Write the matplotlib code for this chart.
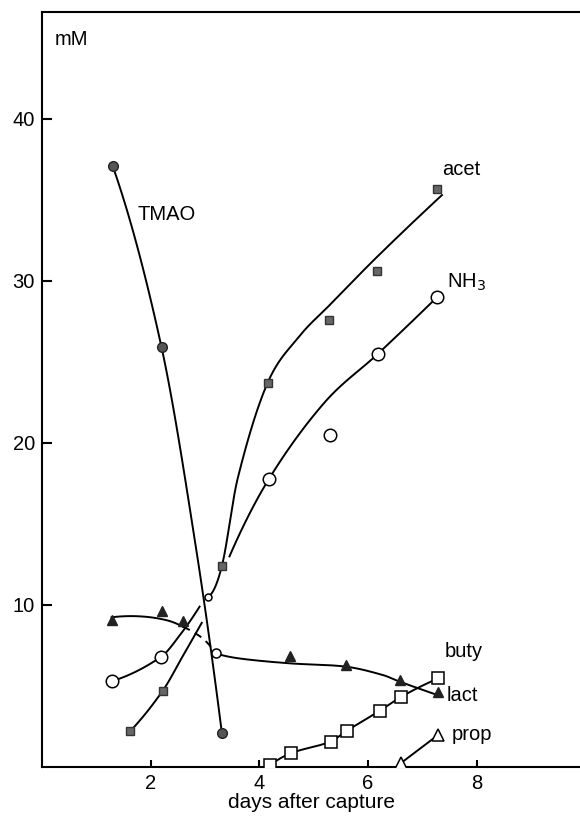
import numpy as np
import matplotlib
matplotlib.use("Agg")
import matplotlib.pyplot as plt

plt.rcParams['font.family'] = ['Liberation Sans Narrow', 'Liberation Sans', 'DejaVu Sans']

# punkty pomiarowe
tmao_x = [1.30, 2.20, 3.31]
tmao_y = [37.1, 25.9, 2.1]

acet_x = [1.62, 2.22, 3.31, 4.15, 5.29, 6.17, 7.27]
acet_y = [2.2, 4.7, 12.4, 23.7, 27.6, 30.6, 35.7]

nh3_x = [1.29, 2.19, 4.18, 5.30, 6.18, 7.27]
nh3_y = [5.3, 6.8, 17.8, 20.5, 25.5, 29.0]
nh3_small_x = [3.05]
nh3_small_y = [10.5]

lact_x = [1.28, 2.21, 2.60, 4.56, 5.60, 6.58, 7.28]
lact_y = [9.1, 9.6, 9.0, 6.85, 6.3, 5.4, 4.65]
lact_open_x = [3.20]
lact_open_y = [7.06]

buty_x = [4.20, 4.58, 5.31, 5.61, 6.22, 6.61, 7.29]
buty_y = [0.12, 0.85, 1.57, 2.24, 3.48, 4.34, 5.47]

prop_x = [6.60, 7.29]
prop_y = [0.23, 1.98]

# krzywe wygładzone (punkty węzłowe)
tmao_cx = [1.30, 2.20, 2.83, 3.31]
tmao_cy = [37.1, 25.9, 13.6, 2.1]

acet_lo_cx = [1.62, 2.22, 2.60, 2.94]
acet_lo_cy = [2.2, 4.7, 6.9, 8.9]
acet_hi_cx = [3.05, 3.31, 3.60, 4.15, 4.74, 5.29, 6.17, 7.36]
acet_hi_cy = [10.5, 12.4, 17.8, 23.7, 26.6, 28.5, 31.5, 35.3]

nh3_lo_cx = [1.29, 2.19, 2.55, 2.90]
nh3_lo_cy = [5.3, 6.8, 8.2, 9.9]
nh3_hi_cx = [3.45, 4.18, 5.20, 6.18, 7.27]
nh3_hi_cy = [13.0, 17.8, 22.5, 25.5, 29.0]

lact_a_cx = [1.28, 1.79, 2.28, 2.59]
lact_a_cy = [9.24, 9.3, 9.07, 8.66]
lact_b_cx = [2.59, 2.77, 2.99, 3.20]
lact_b_cy = [8.66, 8.35, 7.84, 7.0]
lact_c_cx = [3.20, 3.63, 4.55, 5.60, 6.27, 6.58, 7.28]
lact_c_cy = [7.0, 6.7, 6.4, 6.19, 5.68, 5.27, 4.44]


def smooth(xs, ys, n=30):
    # krzywa Hermite'a y(x) przez punkty węzłowe
    x = np.asarray(xs, float)
    y = np.asarray(ys, float)
    if len(x) < 3:
        return x, y
    m = np.empty_like(y)
    m[1:-1] = (y[2:] - y[:-2]) / (x[2:] - x[:-2])
    m[0] = 2 * (y[1] - y[0]) / (x[1] - x[0]) - m[1]
    m[-1] = 2 * (y[-1] - y[-2]) / (x[-1] - x[-2]) - m[-2]
    ox, oy = [], []
    for i in range(len(x) - 1):
        h = x[i + 1] - x[i]
        t = np.linspace(0, 1, n)
        h00 = 2 * t**3 - 3 * t**2 + 1
        h10 = t**3 - 2 * t**2 + t
        h01 = -2 * t**3 + 3 * t**2
        h11 = t**3 - t**2
        ox.append(x[i] + t * h)
        oy.append(h00 * y[i] + h10 * h * m[i] + h01 * y[i + 1] + h11 * h * m[i + 1])
    return np.concatenate(ox), np.concatenate(oy)


fig = plt.figure(figsize=(5.8, 8.23), dpi=100)
ax = fig.add_axes([42 / 580, 56 / 823, 538 / 580, 755 / 823])

lw = 1.4
for cx, cy in [(tmao_cx, tmao_cy), (acet_lo_cx, acet_lo_cy), (acet_hi_cx, acet_hi_cy),
               (nh3_lo_cx, nh3_lo_cy), (nh3_hi_cx, nh3_hi_cy),
               (lact_a_cx, lact_a_cy), (lact_c_cx, lact_c_cy),
               (buty_x, buty_y), (prop_x, prop_y)]:
    sx, sy = smooth(cx, cy)
    ax.plot(sx, sy, color='black', lw=lw, zorder=2)
sx, sy = smooth(lact_b_cx, lact_b_cy)
ax.plot(sx, sy, color='black', lw=lw, ls=(0, (4, 3)), zorder=2)

ax.plot(tmao_x, tmao_y, 'o', ms=7, color='#555555', mec='#222222', zorder=3)
ax.plot(acet_x, acet_y, 's', ms=6, color='#666666', mec='#333333', zorder=3)
ax.plot(nh3_x, nh3_y, 'o', ms=9, mfc='white', mec='black', mew=1.1, zorder=3)
ax.plot(nh3_small_x, nh3_small_y, 'o', ms=5, mfc='white', mec='black', mew=1.1, zorder=3)
ax.plot(lact_x, lact_y, '^', ms=7, color='#222222', zorder=3)
ax.plot(lact_open_x, lact_open_y, 'o', ms=6.5, mfc='white', mec='black', mew=1.1, zorder=3)
ax.plot(buty_x, buty_y, 's', ms=8, mfc='white', mec='black', mew=1.1, zorder=3)
ax.plot(prop_x, prop_y, '^', ms=8, mfc='white', mec='black', mew=1.1, zorder=3)

fs = 14.5
ax.text(0.54, 44.9, 'mM', fontsize=fs, va='center', ha='center')
ax.text(1.76, 34.1, 'TMAO', fontsize=fs, va='center')
ax.text(7.37, 36.9, 'acet', fontsize=fs, va='center')
ax.text(7.46, 29.9, 'NH$_3$', fontsize=fs, va='center')
ax.text(7.41, 7.1, 'buty', fontsize=fs, va='center')
ax.text(7.44, 4.4, 'lact', fontsize=fs, va='center')
ax.text(7.54, 2.0, 'prop', fontsize=fs, va='center')

ax.set_xlim(0, 9.9)
ax.set_ylim(0, 46.6)
ax.set_xticks([2, 4, 6, 8])
ax.set_yticks([10, 20, 30, 40])
ax.tick_params(axis='x', direction='in', length=5, width=1.5, labelsize=fs, pad=5)
ax.tick_params(axis='y', direction='in', length=7, width=1.5, labelsize=fs, pad=5)
ax.spines['right'].set_visible(False)
for s in ['left', 'bottom', 'top']:
    ax.spines[s].set_linewidth(1.5)
ax.set_xlabel('days after capture', fontsize=15, labelpad=0)

fig.savefig('out.png', dpi=100)
